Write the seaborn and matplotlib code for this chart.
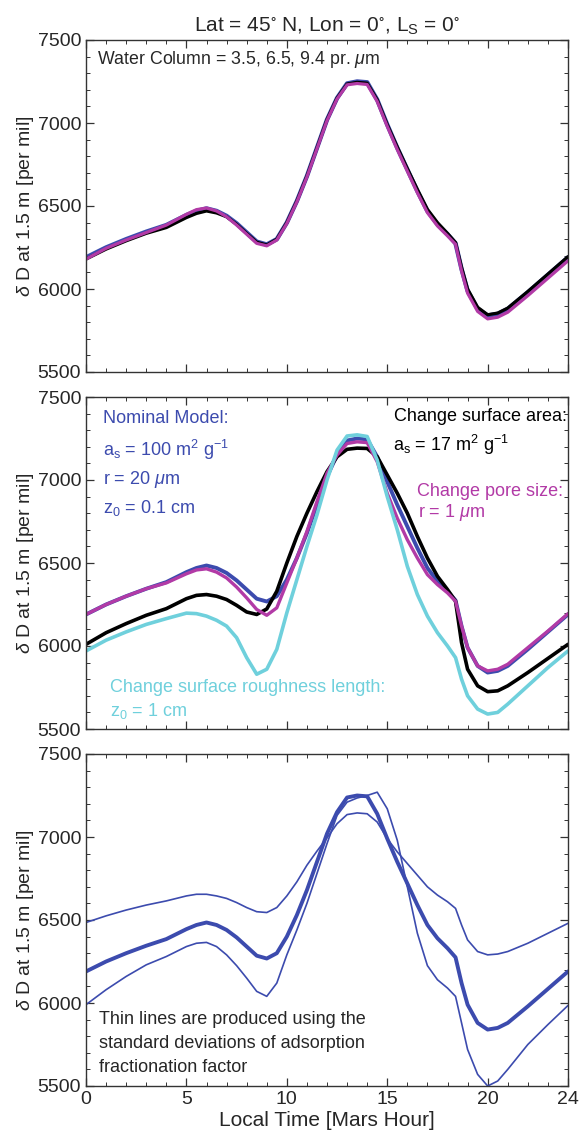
import numpy as np
import pandas as pd
import matplotlib
matplotlib.use("Agg")
import matplotlib.pyplot as plt
from matplotlib.ticker import MultipleLocator, FixedLocator
import seaborn as sns

# ---------------- data ----------------
hours = [0, 1, 2, 3, 4, 5, 5.5, 6, 6.5, 7, 7.5, 8, 8.5, 9, 9.5, 10, 10.5, 11, 11.5, 12, 12.5,
         13, 13.5, 14, 14.5, 15, 15.5, 16, 16.5, 17, 17.5, 18, 18.4, 18.7, 19, 19.5, 20, 20.5,
         21, 22, 23, 24]

# Panel 1: three water columns (nearly identical)
p1_wc35 = [6180, 6240, 6290, 6335, 6370, 6430, 6455, 6470, 6458, 6435, 6390, 6335, 6282, 6265, 6300, 6400, 6530,
           6680, 6850, 7020, 7150, 7235, 7245, 7240, 7140, 6990, 6855, 6725, 6600, 6480, 6400, 6335, 6280,
           6130, 6000, 5890, 5845, 5855, 5885, 5985, 6090, 6195]
p1_wc65 = [6190, 6250, 6300, 6345, 6385, 6445, 6470, 6485, 6470, 6440, 6395, 6340, 6285, 6268, 6300, 6400, 6530,
           6680, 6850, 7020, 7150, 7238, 7250, 7245, 7140, 6990, 6850, 6720, 6590, 6470, 6390, 6330, 6275,
           6120, 5990, 5880, 5840, 5850, 5880, 5980, 6085, 6190]
p1_wc94 = [6180, 6245, 6295, 6340, 6385, 6450, 6478, 6488, 6470, 6435, 6385, 6330, 6275, 6260, 6295, 6395, 6525,
           6675, 6845, 7015, 7145, 7230, 7238, 7232, 7130, 6980, 6840, 6710, 6580, 6460, 6380, 6320, 6270,
           6110, 5975, 5865, 5820, 5830, 5860, 5960, 6065, 6170]

# Panel 2: sensitivity experiments
nominal = [6190, 6250, 6300, 6345, 6385, 6445, 6470, 6485, 6470, 6440, 6395, 6340, 6285, 6268, 6300, 6400, 6530,
           6680, 6850, 7020, 7150, 7238, 7250, 7245, 7140, 6990, 6850, 6720, 6590, 6470, 6390, 6330, 6275,
           6120, 5990, 5880, 5840, 5850, 5880, 5980, 6085, 6190]
surf_area = [6010, 6080, 6135, 6185, 6225, 6285, 6305, 6310, 6300, 6280, 6245, 6205, 6190, 6223, 6330, 6500, 6660,
             6800, 6930, 7050, 7140, 7185, 7192, 7190, 7140, 7030, 6920, 6800, 6660, 6530, 6420, 6340, 6270,
             6020, 5860, 5760, 5725, 5730, 5760, 5840, 5925, 6010]
pore_size = [6190, 6250, 6300, 6345, 6380, 6435, 6458, 6465, 6445, 6410, 6355, 6290, 6220, 6185, 6230, 6380, 6530,
             6690, 6870, 7040, 7150, 7220, 7230, 7225, 7110, 6920, 6770, 6640, 6530, 6430, 6370, 6320, 6270,
             6120, 5990, 5880, 5850, 5860, 5890, 5990, 6090, 6195]
roughness = [5970, 6035, 6085, 6130, 6165, 6198, 6195, 6180, 6155, 6120, 6050, 5930, 5830, 5860, 5980, 6200, 6400,
             6600, 6790, 7000, 7180, 7265, 7272, 7262, 7120, 6900, 6700, 6480, 6310, 6180, 6080, 6000, 5930,
             5800, 5700, 5620, 5590, 5600, 5650, 5760, 5870, 5970]

# Panel 3: nominal with +/- std of adsorption fractionation factor
upper = [6485, 6525, 6560, 6590, 6615, 6645, 6655, 6655, 6645, 6630, 6605, 6575, 6550, 6545, 6575, 6645, 6730,
         6830, 6915, 6995, 7080, 7135, 7145, 7140, 7090, 6990, 6910, 6840, 6770, 6700, 6650, 6610, 6570,
         6470, 6380, 6310, 6290, 6295, 6310, 6360, 6420, 6480]
lower = [5990, 6080, 6160, 6230, 6280, 6340, 6360, 6365, 6340, 6290, 6225, 6150, 6070, 6040, 6120, 6290, 6440,
         6600, 6780, 6960, 7130, 7210, 7235, 7250, 7270, 7170, 6980, 6700, 6420, 6225, 6140, 6090, 6040,
         5880, 5720, 5570, 5500, 5530, 5600, 5750, 5870, 5985]

xticks = [0, 5, 10, 15, 20, 24]
yticks = [5500, 6000, 6500, 7000, 7500]

BLUE = "#3C4BAE"
MAGENTA = "#B23AA6"
CYAN = "#6FD0DC"
BLACK = "#000000"

# ---------------- style ----------------
sns.set_style("ticks")
plt.rcParams["font.family"] = ["Liberation Sans", "DejaVu Sans"]
plt.rcParams["mathtext.fontset"] = "custom"
plt.rcParams["mathtext.rm"] = "Liberation Sans"
plt.rcParams["mathtext.it"] = "Liberation Sans:italic"
plt.rcParams["mathtext.default"] = "regular"

fig = plt.figure(figsize=(5.88, 11.38), dpi=100)
W, H = 588.0, 1138.0
left_px, right_px = 86, 568
tops = [40, 397, 754]
ph = 332
axes = []
for t in tops:
    ax = fig.add_axes([left_px / W, 1 - (t + ph) / H, (right_px - left_px) / W, ph / H])
    axes.append(ax)


def draw(ax, series, colors, widths):
    for y, c, w in zip(series, colors, widths):
        df = pd.DataFrame({"hour": hours, "dD": y})
        sns.lineplot(data=df, x="hour", y="dD", ax=ax, color=c, lw=w, sort=True,
                     estimator=None, solid_joinstyle="round", solid_capstyle="round")


draw(axes[0], [p1_wc65, p1_wc35, p1_wc94], [BLUE, BLACK, MAGENTA], [3.2, 2.3, 2.3])
draw(axes[1], [nominal, surf_area, pore_size, roughness], [BLUE, BLACK, MAGENTA, CYAN], [2.8, 2.6, 2.4, 2.6])
draw(axes[2], [nominal, upper, lower], [BLUE, BLUE, BLUE], [2.8, 1.2, 1.2])

for i, ax in enumerate(axes):
    ax.set_xlim(0, 24)
    ax.set_ylim(5500, 7500)
    ax.xaxis.set_major_locator(FixedLocator(xticks))
    ax.xaxis.set_minor_locator(MultipleLocator(1))
    ax.yaxis.set_major_locator(FixedLocator(yticks))
    ax.yaxis.set_minor_locator(MultipleLocator(100))
    ax.tick_params(which="both", direction="in", top=True, right=True,
                   labelsize=14, color="#333333")
    ax.tick_params(which="major", length=6, width=0.9)
    ax.tick_params(which="minor", length=3, width=0.7)
    for s in ax.spines.values():
        s.set_linewidth(1.0)
        s.set_color("#333333")
    ax.set_ylabel(r"$\mathit{\delta}$ D at 1.5 m [per mil]", fontsize=14, labelpad=1)
    if i < 2:
        ax.set_xticklabels([])
        ax.set_xlabel("")
    else:
        ax.set_xlabel("Local Time [Mars Hour]", fontsize=15, labelpad=2)

# Title
axes[0].set_title(r"Lat = 45$^{\circ}$ N, Lon = 0$^{\circ}$, L$_{S}$ = 0$^{\circ}$",
                  fontsize=15, pad=6)

# Panel 1 text
axes[0].text(0.022, 0.942, r"Water Column = 3.5, 6.5, 9.4 pr. $\mathit{\mu}$m",
             transform=axes[0].transAxes, fontsize=12.8, va="center", ha="left")

# Panel 2 text
a2 = axes[1]
fs = 13
a2.text(0.035, 0.935, "Nominal Model:", color=BLUE, transform=a2.transAxes, fontsize=fs, va="center")
a2.text(0.035, 0.84, r"a$_s$ = 100 m$^2$ g$^{-1}$", color=BLUE, transform=a2.transAxes, fontsize=fs, va="center")
a2.text(0.035, 0.75, r"r = 20 $\mathit{\mu}$m", color=BLUE, transform=a2.transAxes, fontsize=fs, va="center")
a2.text(0.035, 0.665, r"z$_0$ = 0.1 cm", color=BLUE, transform=a2.transAxes, fontsize=fs, va="center")
a2.text(0.997, 0.94, "Change surface area:", color=BLACK, transform=a2.transAxes, fontsize=fs, va="center", ha="right")
a2.text(0.637, 0.855, r"a$_s$ = 17 m$^2$ g$^{-1}$", color=BLACK, transform=a2.transAxes, fontsize=fs, va="center")
a2.text(0.99, 0.716, "Change pore size:", color=MAGENTA, transform=a2.transAxes, fontsize=fs, va="center", ha="right")
a2.text(0.688, 0.652, r"r = 1 $\mathit{\mu}$m", color=MAGENTA, transform=a2.transAxes, fontsize=fs, va="center")
a2.text(0.05, 0.125, "Change surface roughness length:", color=CYAN, transform=a2.transAxes, fontsize=fs, va="center")
a2.text(0.05, 0.055, r"z$_0$ = 1 cm", color=CYAN, transform=a2.transAxes, fontsize=fs, va="center")

# Panel 3 text
a3 = axes[2]
a3.text(0.028, 0.200, "Thin lines are produced using the", transform=a3.transAxes, fontsize=13, va="center")
a3.text(0.028, 0.128, "standard deviations of adsorption", transform=a3.transAxes, fontsize=13, va="center")
a3.text(0.028, 0.055, "fractionation factor", transform=a3.transAxes, fontsize=13, va="center")

fig.savefig("out.png", dpi=100)
